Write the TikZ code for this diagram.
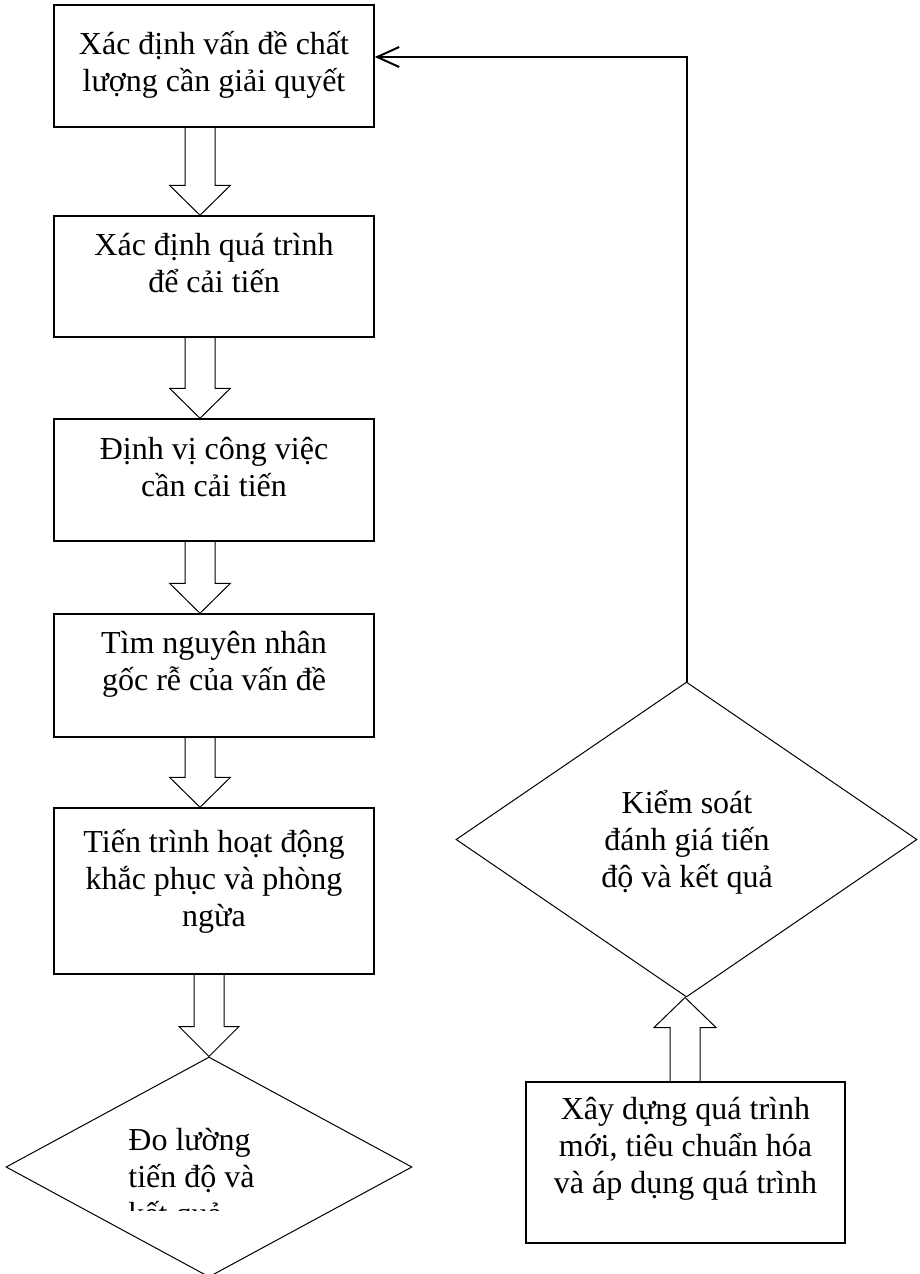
\documentclass[tikz,border=0pt]{standalone}
\usepackage{fontspec}
\setmainfont{Liberation Serif}
\usetikzlibrary{shapes.geometric,calc,arrows.meta}
% invisible strut that fixes the height of the first text line
\newcommand\lnstrut{\rule{0pt}{17pt}}
% hollow block arrow pointing down: source node, target node, centre x, head half-width
\newcommand\blockdown[4]{%
  \path (#3,0 |- #1.south) coordinate (bs) (#3,0 |- #2.north) coordinate (be);
  \draw[blockarrow] ($(bs)+(-15,0)$) -- ($(be)+(-15,-30)$) -- ($(be)+(-#4,-30)$) -- (be)
    -- ($(be)+(#4,-30)$) -- ($(be)+(15,-30)$) -- ($(bs)+(15,0)$);
}
% hollow block arrow pointing up: source node, target node, centre x, head half-width
\newcommand\blockup[4]{%
  \path (#3,0 |- #1.north) coordinate (bs) (#3,0 |- #2.south) coordinate (be);
  \draw[blockarrow] ($(bs)+(-15,0)$) -- ($(be)+(-15,30)$) -- ($(be)+(-#4,30)$) -- (be)
    -- ($(be)+(#4,30)$) -- ($(be)+(15,30)$) -- ($(bs)+(15,0)$);
}
\begin{document}
\begin{tikzpicture}[x=0.5pt,y=-0.5pt,
  procbox/.style={draw, line width=0.75pt, minimum width=160pt, inner sep=0pt},
  decision/.style={diamond, draw, line width=0.5pt, inner sep=0pt},
  boxtext/.style={inner sep=0pt, align=center, anchor=north,
    font={\fontsize{16pt}{18.5pt}\selectfont\lineskiplimit=-100pt\relax}},
  blockarrow/.style={line width=0.5pt, line join=miter},
  feedback/.style={line width=1pt, -{Straight Barb[length=11pt,width=10pt]}}
]
\fill[white] (0,0) rectangle (920,1274);
\useasboundingbox (0,0) rectangle (920,1274);

% left column of steps
\node[procbox, minimum height=61pt]   (b1) at (214,66)    {};
\node[procbox, minimum height=60.5pt] (b2) at (214,276.5) {};
\node[procbox, minimum height=61pt]   (b3) at (214,480)   {};
\node[procbox, minimum height=61.5pt] (b4) at (214,675.5) {};
\node[procbox, minimum height=83pt]   (b5) at (214,891)   {};
\node[decision, minimum width=203pt, minimum height=110pt] (d1) at (209,1167) {};

% right column
\node[decision, minimum width=230.5pt, minimum height=157.5pt] (d2) at (686.5,839.5) {};
\node[procbox, minimum width=159.5pt, minimum height=80.5pt] (b6) at (685.5,1162.5) {};

% texts
\node[boxtext] (t1) at (214,20)  {\lnstrut Xác định vấn đề chất\\lượng cần giải quyết};
\node[boxtext] (t2) at (214,221) {\lnstrut Xác định quá trình\\để cải tiến};
\node[boxtext] (t3) at (214,425) {\lnstrut Định vị công việc\\cần cải tiến};
\node[boxtext] (t4) at (214,619) {\lnstrut Tìm nguyên nhân\\gốc rễ của vấn đề};
\node[boxtext] (t5) at (214,818) {\lnstrut Tiến trình hoạt động\\khắc phục và phòng\\ngừa};
\node[boxtext] (t6) at (685.5,1085) {\lnstrut Xây dựng quá trình\\mới, tiêu chuẩn hóa\\và áp dụng quá trình};
\node[boxtext] (t7) at (687,779) {\lnstrut Kiểm soát\\đánh giá tiến\\độ và kết quả};
\begin{scope}
  \clip (0,0) rectangle (920,1210);
  \node[boxtext, align=left, anchor=north west] (t8) at (128,1116) {\lnstrut Đo lường\\tiến độ và\\kết quả};
\end{scope}

% flow arrows
\blockdown{b1}{b2}{200}{30.5}
\blockdown{b2}{b3}{200}{30.5}
\blockdown{b3}{b4}{200}{30.5}
\blockdown{b4}{b5}{200}{30.5}
\blockdown{b5}{d1}{209}{30}
\blockup{b6}{d2}{685}{31}

% feedback loop back to the first step
\coordinate (fbturn) at (0,57);
\draw[feedback] (d2.north) |- (b1.east |- fbturn);
\end{tikzpicture}
\end{document}
